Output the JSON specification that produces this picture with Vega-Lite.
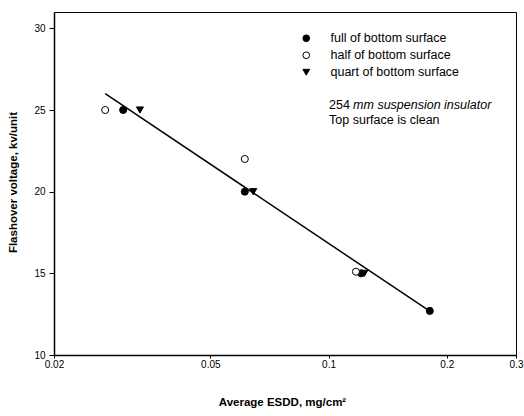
{
  "$schema": "https://vega.github.io/schema/vega-lite/v6.json",
  "width": 462,
  "height": 343,
  "autosize": {"type": "none"},
  "padding": {"left": 54, "top": 12, "right": 8, "bottom": 61},
  "background": "white",
  "config": {
    "font": "Liberation Sans",
    "view": {"stroke": "black", "strokeWidth": 1},
    "axis": {
      "grid": false,
      "domainColor": "black",
      "domainWidth": 1.5,
      "tickColor": "black",
      "labelColor": "black",
      "titleColor": "black",
      "labelFont": "Liberation Sans",
      "titleFont": "Liberation Sans",
      "labelFontSize": 10,
      "titleFontSize": 11.5,
      "titleFontWeight": "bold"
    }
  },
  "layer": [
    {
      "data": {"values": [
        {"esdd": 0.027, "voltage": 26.0},
        {"esdd": 0.181, "voltage": 12.68}
      ]},
      "mark": {"type": "line", "color": "black", "strokeWidth": 1.5},
      "encoding": {
        "x": {"field": "esdd", "type": "quantitative",
          "scale": {"type": "log", "domain": [0.02, 0.3], "nice": false},
          "axis": {"values": [0.02, 0.05, 0.1, 0.2, 0.3], "format": "~g", "tickSize": 3, "labelPadding": 1, "labelFlush": false,
            "title": "Average ESDD, mg/cm²", "titleX": 228, "titleY": 47, "titleBaseline": "middle"}},
        "y": {"field": "voltage", "type": "quantitative",
          "scale": {"domain": [10, 31], "nice": false, "zero": false},
          "axis": {"values": [10, 15, 20, 25, 30], "tickSize": 5, "labelPadding": 4,
            "title": "Flashover voltage, kv/unit", "titleX": -41, "titleY": 170, "titleAngle": -90, "titleAlign": "center", "titleBaseline": "middle"}}
      }
    },
    {
      "data": {"values": [
        {"series": "full of bottom surface", "esdd": 0.030, "voltage": 25},
        {"series": "full of bottom surface", "esdd": 0.0612, "voltage": 20},
        {"series": "full of bottom surface", "esdd": 0.121, "voltage": 15},
        {"series": "full of bottom surface", "esdd": 0.181, "voltage": 12.7},
        {"series": "half of bottom surface", "esdd": 0.027, "voltage": 25},
        {"series": "half of bottom surface", "esdd": 0.0612, "voltage": 22},
        {"series": "half of bottom surface", "esdd": 0.1174, "voltage": 15.1},
        {"series": "quart of bottom surface", "esdd": 0.0331, "voltage": 25},
        {"series": "quart of bottom surface", "esdd": 0.0643, "voltage": 20},
        {"series": "quart of bottom surface", "esdd": 0.1233, "voltage": 15}
      ]},
      "mark": {"type": "point", "filled": true, "size": 50, "stroke": "black", "strokeWidth": 1, "opacity": 1},
      "encoding": {
        "x": {"field": "esdd", "type": "quantitative"},
        "y": {"field": "voltage", "type": "quantitative"},
        "color": {"field": "series", "type": "nominal",
          "scale": {"domain": ["full of bottom surface", "half of bottom surface", "quart of bottom surface"], "range": ["black", "white", "black"]},
          "legend": {"title": null, "orient": "none", "legendX": 246, "legendY": 20, "padding": 0,
            "labelFontSize": 12.5, "labelColor": "black", "labelFont": "Liberation Sans", "labelOffset": 18,
            "symbolSize": 45, "symbolStrokeColor": "black", "symbolStrokeWidth": 1, "rowPadding": 4}},
        "shape": {"field": "series", "type": "nominal",
          "scale": {"domain": ["full of bottom surface", "half of bottom surface", "quart of bottom surface"], "range": ["circle", "circle", "triangle-down"]},
          "legend": {"title": null}}
      }
    },
    {
      "data": {"values": [{"esdd": 0.1003, "voltage": 25.32, "label": "254"}]},
      "mark": {"type": "text", "align": "left", "baseline": "middle", "fontSize": 12.5, "color": "black"},
      "encoding": {
        "x": {"field": "esdd", "type": "quantitative"},
        "y": {"field": "voltage", "type": "quantitative"},
        "text": {"field": "label"}
      }
    },
    {
      "data": {"values": [{"esdd": 0.1003, "voltage": 25.32, "label": "mm suspension insulator"}]},
      "mark": {"type": "text", "align": "left", "baseline": "middle", "fontSize": 12.5, "fontStyle": "italic", "color": "black", "dx": 24},
      "encoding": {
        "x": {"field": "esdd", "type": "quantitative"},
        "y": {"field": "voltage", "type": "quantitative"},
        "text": {"field": "label"}
      }
    },
    {
      "data": {"values": [{"esdd": 0.1003, "voltage": 24.4, "label": "Top surface is clean"}]},
      "mark": {"type": "text", "align": "left", "baseline": "middle", "fontSize": 12.5, "color": "black"},
      "encoding": {
        "x": {"field": "esdd", "type": "quantitative"},
        "y": {"field": "voltage", "type": "quantitative"},
        "text": {"field": "label"}
      }
    }
  ]
}
